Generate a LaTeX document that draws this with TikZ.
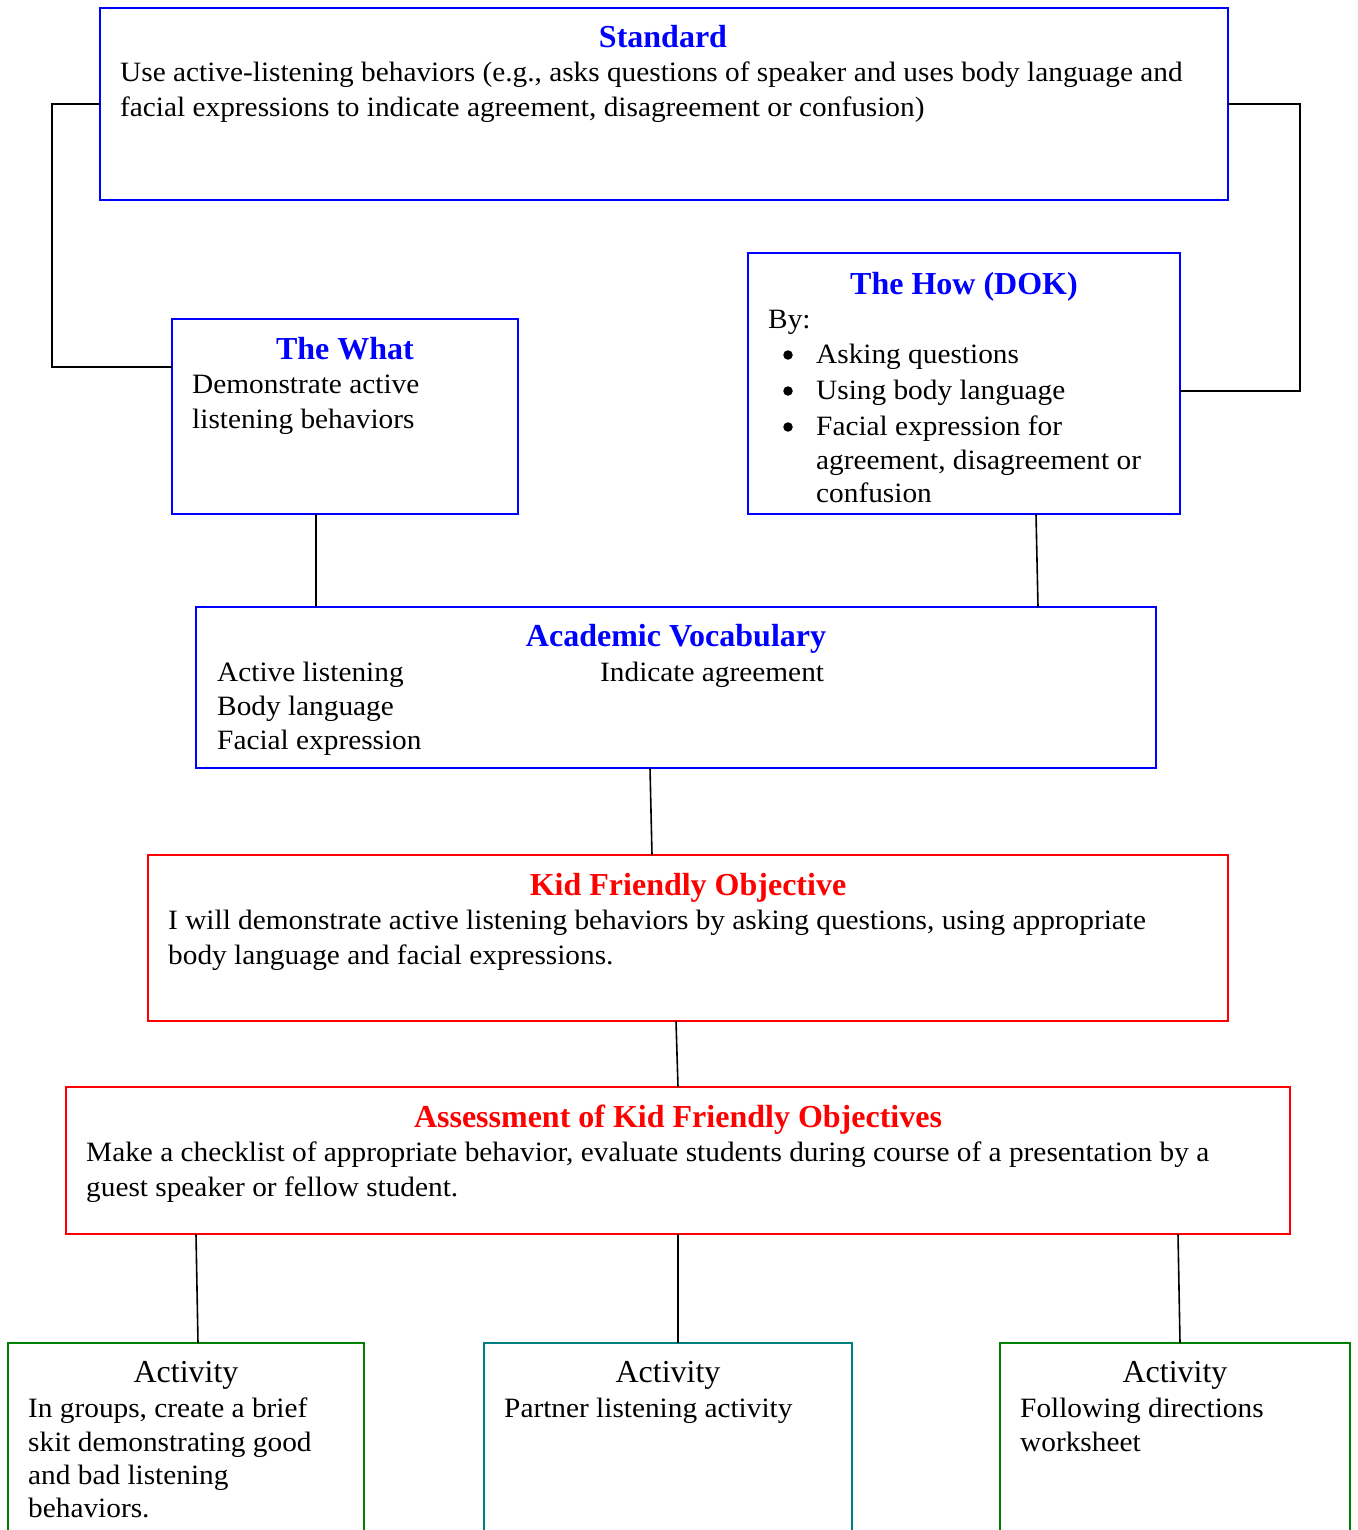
\documentclass[tikz,border=0pt]{standalone}
\usepackage{fontspec}
\setmainfont{Liberation Serif}
\newfontfamily\widefam{Liberation Serif}[FakeStretch=1.047]
\usetikzlibrary{calc}
\definecolor{bx}{RGB}{0,0,255}
\definecolor{rx}{RGB}{255,0,0}
\definecolor{gx}{RGB}{0,128,0}
\definecolor{tx}{RGB}{0,128,128}
\newcommand{\bodyfont}{\widefam\fontsize{28}{35}\selectfont}
\newcommand{\titlefont}{\fontsize{32}{35}\selectfont}
\tikzset{
  boxbase/.style={draw, rectangle, anchor=north west, inner sep=0pt, outer sep=0pt, line width=1.8pt},
  bluebox/.style={boxbase, draw=bx},
  redbox/.style={boxbase, draw=rx},
  greenbox/.style={boxbase, draw=gx},
  tealbox/.style={boxbase, draw=tx},
  ttl/.style={anchor=base, inner sep=0pt, font=\titlefont\bfseries},
  acttl/.style={anchor=base, inner sep=0pt, font=\titlefont},
  body/.style={anchor=base west, inner sep=0pt, font=\bodyfont},
  dot/.style={circle, fill=black, inner sep=0pt, minimum size=9.5pt},
  conn/.style={draw=black, line width=1.6pt}
}
\begin{document}
\begin{tikzpicture}[x=1pt, y=-1pt]
\useasboundingbox (0,0) rectangle (1357,1530);
\fill[white] (0,0) rectangle (1357,1530);

% boxes
\node[bluebox, minimum width=1128, minimum height=192] (std) at (100,8) {};
\node[bluebox, minimum width=346, minimum height=195] (what) at (172,319) {};
\node[bluebox, minimum width=432, minimum height=261] (how) at (748,253) {};
\node[bluebox, minimum width=960, minimum height=161] (voc) at (196,607) {};
\node[redbox, minimum width=1080, minimum height=166] (kfo) at (148,855) {};
\node[redbox, minimum width=1224, minimum height=147] (asm) at (66,1087) {};
\node[greenbox, minimum width=356, minimum height=260] (act1) at (8,1343) {};
\node[tealbox, minimum width=368, minimum height=260] (act2) at (484,1343) {};
\node[greenbox, minimum width=350, minimum height=260] (act3) at (1000,1343) {};

% texts
\node[ttl, text=bx] (stdT) at (663,48) {Standard};
\node[body] (stdB1) at (120,82) {Use active-listening behaviors (e.g., asks questions of speaker and uses body language and};
\node[body] (stdB2) at (120,117) {facial expressions to indicate agreement, disagreement or confusion)};

\node[ttl, text=bx] (whatT) at (345,359) {The What};
\node[body] (whatB1) at (192,393) {Demonstrate active};
\node[body] (whatB2) at (192,428) {listening behaviors};

\node[ttl, text=bx] (howT) at (964,294) {The How (DOK)};
\node[body] (howB0) at (768,328) {By:};
\node[dot] (howD1) at (788,355) {};
\node[dot] (howD2) at (788,391) {};
\node[dot] (howD3) at (788,427) {};
\node[body] (howB1) at (816,363) {Asking questions};
\node[body] (howB2) at (816,399) {Using body language};
\node[body] (howB3) at (816,435) {Facial expression for};
\node[body] (howB4) at (816,469) {agreement, disagreement or};
\node[body] (howB5) at (816,502) {confusion};

\node[ttl, text=bx] (vocT) at (676,646) {Academic Vocabulary};
\node[body] (vocB1) at (217,681) {Active listening};
\node[body] (vocB2) at (217,715) {Body language};
\node[body] (vocB3) at (217,749) {Facial expression};
\node[body] (vocB4) at (600,681) {Indicate agreement};

\node[ttl, text=rx] (kfoT) at (688,895) {Kid Friendly Objective};
\node[body] (kfoB1) at (168,929) {I will demonstrate active listening behaviors by asking questions, using appropriate};
\node[body] (kfoB2) at (168,964) {body language and facial expressions.};

\node[ttl, text=rx] (asmT) at (678,1127) {Assessment of Kid Friendly Objectives};
\node[body] (asmB1) at (86,1161) {Make a checklist of appropriate behavior, evaluate students during course of a presentation by a};
\node[body] (asmB2) at (86,1196) {guest speaker or fellow student.};

\node[acttl] (a1T) at (186,1382) {Activity};
\node[body] (a1B1) at (28,1417) {In groups, create a brief};
\node[body] (a1B2) at (28,1451) {skit demonstrating good};
\node[body] (a1B3) at (28,1484) {and bad listening};
\node[body] (a1B4) at (28,1517) {behaviors.};

\node[acttl] (a2T) at (668,1382) {Activity};
\node[body] (a2B1) at (504,1417) {Partner listening activity};

\node[acttl] (a3T) at (1175,1382) {Activity};
\node[body] (a3B1) at (1020,1417) {Following directions};
\node[body] (a3B2) at (1020,1451) {worksheet};

% connectors
\coordinate (stdL) at (std.west);
\coordinate (stdR) at (std.east);
\coordinate (whatL) at ($(what.north west)+(0,48)$);
\coordinate (howR) at ($(how.north east)+(0,138)$);
\draw[conn] (stdL) -- ++(-48,0) |- (whatL);
\draw[conn] (stdR) -- ++(72,0) |- (howR);
\draw[conn] ($(what.south west)+(144,0)$) -- ($(voc.north west)+(120,0)$);
\draw[conn] ($(how.south west)+(288,0)$) -- ($(voc.north west)+(842,0)$);
\draw[conn] ($(voc.south west)+(454,0)$) -- ($(kfo.north west)+(504,0)$);
\draw[conn] ($(kfo.south west)+(528,0)$) -- ($(asm.north west)+(612,0)$);
\draw[conn] ($(asm.south west)+(130,0)$) -- ($(act1.north west)+(190,0)$);
\draw[conn] ($(asm.south west)+(612,0)$) -- ($(act2.north west)+(194,0)$);
\draw[conn] ($(asm.south west)+(1112,0)$) -- ($(act3.north west)+(180,0)$);
\end{tikzpicture}
\end{document}
